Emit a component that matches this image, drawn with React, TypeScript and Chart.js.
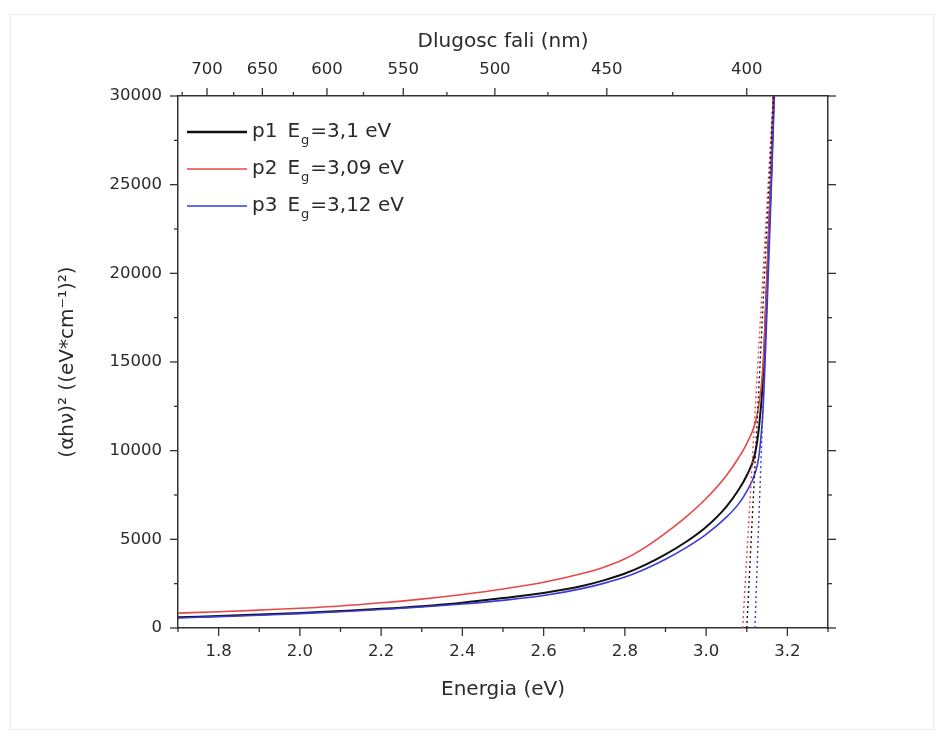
import React, { useEffect, useRef } from "react";
import { Chart, registerables } from "chart.js";

Chart.register(...registerables);

// ---------------- DATA ----------------
const ENERGY_P1 = [1.7, 1.8, 1.9, 2.0, 2.1, 2.2, 2.3, 2.4, 2.5, 2.6, 2.7, 2.75, 2.8, 2.85, 2.9, 2.95, 3.0, 3.05, 3.08, 3.1, 3.12, 3.13, 3.14, 3.15, 3.16, 3.166];
const ALPHA_P1 = [600, 680, 760, 850, 960, 1080, 1230, 1430, 1690, 1980, 2400, 2700, 3070, 3560, 4150, 4850, 5700, 6850, 7800, 8600, 9800, 11300, 14100, 19800, 25500, 30000];

const ENERGY_P2 = [1.7, 1.8, 1.9, 2.0, 2.1, 2.2, 2.3, 2.4, 2.5, 2.6, 2.7, 2.75, 2.8, 2.85, 2.9, 2.95, 3.0, 3.05, 3.08, 3.1, 3.12, 3.13, 3.14, 3.15, 3.16, 3.165];
const ALPHA_P2 = [840, 920, 1010, 1110, 1240, 1420, 1630, 1890, 2200, 2580, 3100, 3440, 3900, 4550, 5350, 6250, 7300, 8600, 9600, 10400, 11500, 12600, 14800, 20000, 25800, 30000];

const ENERGY_P3 = [1.7, 1.8, 1.9, 2.0, 2.1, 2.2, 2.3, 2.4, 2.5, 2.6, 2.7, 2.75, 2.8, 2.85, 2.9, 2.95, 3.0, 3.05, 3.08, 3.1, 3.12, 3.13, 3.14, 3.15, 3.16, 3.168];
const ALPHA_P3 = [560, 640, 720, 810, 920, 1040, 1180, 1350, 1560, 1830, 2250, 2530, 2870, 3330, 3880, 4520, 5280, 6250, 7000, 7700, 8700, 9700, 12300, 18000, 24500, 30000];

// tangent (extrapolation) lines: [energy at bottom, energy at top]
const TANGENT_E_P1 = [3.1, 3.166];
const TANGENT_E_P2 = [3.09, 3.165];
const TANGENT_E_P3 = [3.12, 3.168];
const TANGENT_ALPHA = [0, 30000];

const SERIES_NAMES = ["p1", "p2", "p3"];
const SERIES_EG = ["=3,1 eV", "=3,09 eV", "=3,12 eV"];
const SERIES_COLORS = ["#111111", "#e8474a", "#3a3ad8"];

const X_TICKS = [1.8, 2.0, 2.2, 2.4, 2.6, 2.8, 3.0, 3.2];
const X_MINOR = [1.7, 1.9, 2.1, 2.3, 2.5, 2.7, 2.9, 3.1, 3.3];
const Y_TICKS = [0, 5000, 10000, 15000, 20000, 25000, 30000];
const Y_MINOR = [2500, 7500, 12500, 17500, 22500, 27500];
const WAVELENGTH_TICKS = [700, 650, 600, 550, 500, 450, 400];
const WAVELENGTH_MINOR = [725, 675, 625, 575, 525, 475, 425];
const HC = 1240; // eV*nm

const X_MIN = 1.7;
const X_MAX = 3.3;
const Y_MIN = 0;
const Y_MAX = 30000;

const FONT = "'DejaVu Sans', sans-serif";
const AXIS_COLOR = "#333333";
const TEXT_COLOR = "#2a2a2a";

function pts(xs: number[], ys: number[]) {
  return xs.map((x, i) => ({ x, y: ys[i] }));
}

const tickPlugin = {
  id: "minorTicks",
  afterDraw(chart: any) {
    const { ctx, chartArea } = chart;
    const { left, right, top, bottom } = chartArea;
    const sx = chart.scales.x;
    const sy = chart.scales.y;
    ctx.save();
    ctx.strokeStyle = AXIS_COLOR;
    ctx.lineWidth = 1.3;
    const MAJ = 8;
    const MIN = 4;
    const line = (x1: number, y1: number, x2: number, y2: number) => {
      ctx.beginPath();
      ctx.moveTo(x1, y1);
      ctx.lineTo(x2, y2);
      ctx.stroke();
    };
    X_TICKS.forEach((v) => {
      const p = sx.getPixelForValue(v);
      line(p, bottom, p, bottom + MAJ);
    });
    X_MINOR.forEach((v) => {
      const p = sx.getPixelForValue(v);
      line(p, bottom, p, bottom + MIN);
    });
    WAVELENGTH_TICKS.forEach((l) => {
      const p = sx.getPixelForValue(HC / l);
      line(p, top, p, top - MAJ);
    });
    WAVELENGTH_MINOR.forEach((l) => {
      const e = HC / l;
      if (e < X_MIN || e > X_MAX) return;
      const p = sx.getPixelForValue(e);
      line(p, top, p, top - MIN);
    });
    Y_TICKS.forEach((v) => {
      const p = sy.getPixelForValue(v);
      line(left, p, left - MAJ, p);
      line(right, p, right + MAJ, p);
    });
    Y_MINOR.forEach((v) => {
      const p = sy.getPixelForValue(v);
      line(left, p, left - MIN, p);
      line(right, p, right + MIN, p);
    });
    ctx.restore();
  },
};

const legendPlugin = {
  id: "customLegend",
  afterDraw(chart: any) {
    const { ctx, chartArea } = chart;
    const x0 = chartArea.left + 9;
    const lineLen = 60;
    const rowY = [chartArea.top + 36, chartArea.top + 73, chartArea.top + 110];
    const widths = [2.5, 1.6, 1.6];
    ctx.save();
    SERIES_NAMES.forEach((name, i) => {
      const y = rowY[i];
      ctx.strokeStyle = SERIES_COLORS[i];
      ctx.lineWidth = widths[i];
      ctx.beginPath();
      ctx.moveTo(x0, y);
      ctx.lineTo(x0 + lineLen, y);
      ctx.stroke();
      ctx.fillStyle = TEXT_COLOR;
      ctx.textBaseline = "middle";
      ctx.textAlign = "left";
      ctx.font = `20px ${FONT}`;
      let tx = x0 + lineLen + 5;
      ctx.fillText(name, tx, y);
      tx += ctx.measureText(name).width + 10;
      ctx.fillText("E", tx, y);
      tx += ctx.measureText("E").width + 1;
      ctx.font = `13px ${FONT}`;
      ctx.fillText("g", tx, y + 9);
      tx += ctx.measureText("g").width + 1;
      ctx.font = `20px ${FONT}`;
      ctx.fillText(SERIES_EG[i], tx, y);
    });
    ctx.restore();
  },
};

export default function App() {
  const canvasRef = useRef<HTMLCanvasElement | null>(null);

  useEffect(() => {
    if (!canvasRef.current) return;
    const tickFont = { family: FONT, size: 16.5 };
    const chart = new Chart(canvasRef.current, {
      type: "line",
      data: {
        datasets: [
          {
            label: "p1",
            data: pts(ENERGY_P1, ALPHA_P1),
            borderColor: SERIES_COLORS[0],
            borderWidth: 2,
            pointRadius: 0,
            cubicInterpolationMode: "monotone",
            order: 2,
          },
          {
            label: "p2",
            data: pts(ENERGY_P2, ALPHA_P2),
            borderColor: SERIES_COLORS[1],
            borderWidth: 1.6,
            pointRadius: 0,
            cubicInterpolationMode: "monotone",
            order: 1,
          },
          {
            label: "p3",
            data: pts(ENERGY_P3, ALPHA_P3),
            borderColor: SERIES_COLORS[2],
            borderWidth: 1.6,
            pointRadius: 0,
            cubicInterpolationMode: "monotone",
            order: 0,
          },
          {
            label: "t1",
            data: pts(TANGENT_E_P1, TANGENT_ALPHA),
            borderColor: SERIES_COLORS[0],
            borderWidth: 1.4,
            borderDash: [2, 3],
            pointRadius: 0,
            order: -1,
          },
          {
            label: "t2",
            data: pts(TANGENT_E_P2, TANGENT_ALPHA),
            borderColor: SERIES_COLORS[1],
            borderWidth: 1.4,
            borderDash: [2, 3],
            pointRadius: 0,
            order: -1,
          },
          {
            label: "t3",
            data: pts(TANGENT_E_P3, TANGENT_ALPHA),
            borderColor: SERIES_COLORS[2],
            borderWidth: 1.4,
            borderDash: [2, 3],
            pointRadius: 0,
            order: -1,
          },
        ],
      },
      options: {
        responsive: false,
        animation: false,
        layout: { padding: 0 },
        plugins: {
          legend: { display: false },
          tooltip: { enabled: false },
        },
        scales: {
          x: {
            type: "linear",
            position: "bottom",
            min: X_MIN,
            max: X_MAX,
            afterBuildTicks: (scale: any) => {
              scale.ticks = X_TICKS.map((v) => ({ value: v }));
            },
            afterFit: (scale: any) => {
              scale.height = 104;
            },
            ticks: {
              autoSkip: false,
              maxRotation: 0,
              padding: 14,
              color: TEXT_COLOR,
              font: tickFont,
              callback: (v: any) => Number(v).toFixed(1),
            },
            grid: { display: true, drawOnChartArea: false, drawTicks: false },
            border: { display: true, color: AXIS_COLOR, width: 1.5 },
            title: {
              display: true,
              text: "Energia (eV)",
              color: TEXT_COLOR,
              font: { family: FONT, size: 20 },
              padding: { top: 0, bottom: 30 },
            },
          },
          x2: {
            type: "linear",
            position: "top",
            min: X_MIN,
            max: X_MAX,
            afterBuildTicks: (scale: any) => {
              scale.ticks = WAVELENGTH_TICKS.map((l) => ({ value: HC / l }));
            },
            afterFit: (scale: any) => {
              scale.height = 88;
            },
            ticks: {
              autoSkip: false,
              maxRotation: 0,
              padding: 16,
              color: TEXT_COLOR,
              font: tickFont,
              callback: (_v: any, i: number) => String(WAVELENGTH_TICKS[i]),
            },
            grid: { display: true, drawOnChartArea: false, drawTicks: false },
            border: { display: true, color: AXIS_COLOR, width: 1.5 },
            title: {
              display: true,
              text: "Dlugosc fali (nm)",
              color: TEXT_COLOR,
              font: { family: FONT, size: 20 },
              padding: { top: 22, bottom: 0 },
            },
          },
          y: {
            type: "linear",
            position: "left",
            min: Y_MIN,
            max: Y_MAX,
            afterBuildTicks: (scale: any) => {
              scale.ticks = Y_TICKS.map((v) => ({ value: v }));
            },
            afterFit: (scale: any) => {
              scale.width = 170;
            },
            ticks: {
              autoSkip: false,
              padding: 16,
              color: TEXT_COLOR,
              font: tickFont,
              callback: (v: any) => String(v),
            },
            grid: { display: true, drawOnChartArea: false, drawTicks: false },
            border: { display: true, color: AXIS_COLOR, width: 1.5 },
            title: {
              display: true,
              text: "(αhν)² ((eV*cm⁻¹)²)",
              color: TEXT_COLOR,
              font: { family: FONT, size: 20 },
              padding: { top: 48, bottom: 0 },
            },
          },
          y2: {
            type: "linear",
            position: "right",
            min: Y_MIN,
            max: Y_MAX,
            afterFit: (scale: any) => {
              scale.width = 108;
            },
            ticks: { display: false },
            grid: { display: true, drawOnChartArea: false, drawTicks: false },
            border: { display: true, color: AXIS_COLOR, width: 1.5 },
          },
        },
      },
      plugins: [tickPlugin, legendPlugin],
    } as any);
    return () => chart.destroy();
  }, []);

  return (
    <div style={{ position: "relative", width: 928, height: 724 }}>
      <div
        style={{
          position: "absolute",
          left: 2,
          top: 6,
          width: 924,
          height: 716,
          border: "1px solid #ededed",
          boxSizing: "border-box",
        }}
      />
      <canvas
        ref={canvasRef}
        width={928}
        height={724}
        style={{ position: "absolute", left: 0, top: 0 }}
      />
    </div>
  );
}
